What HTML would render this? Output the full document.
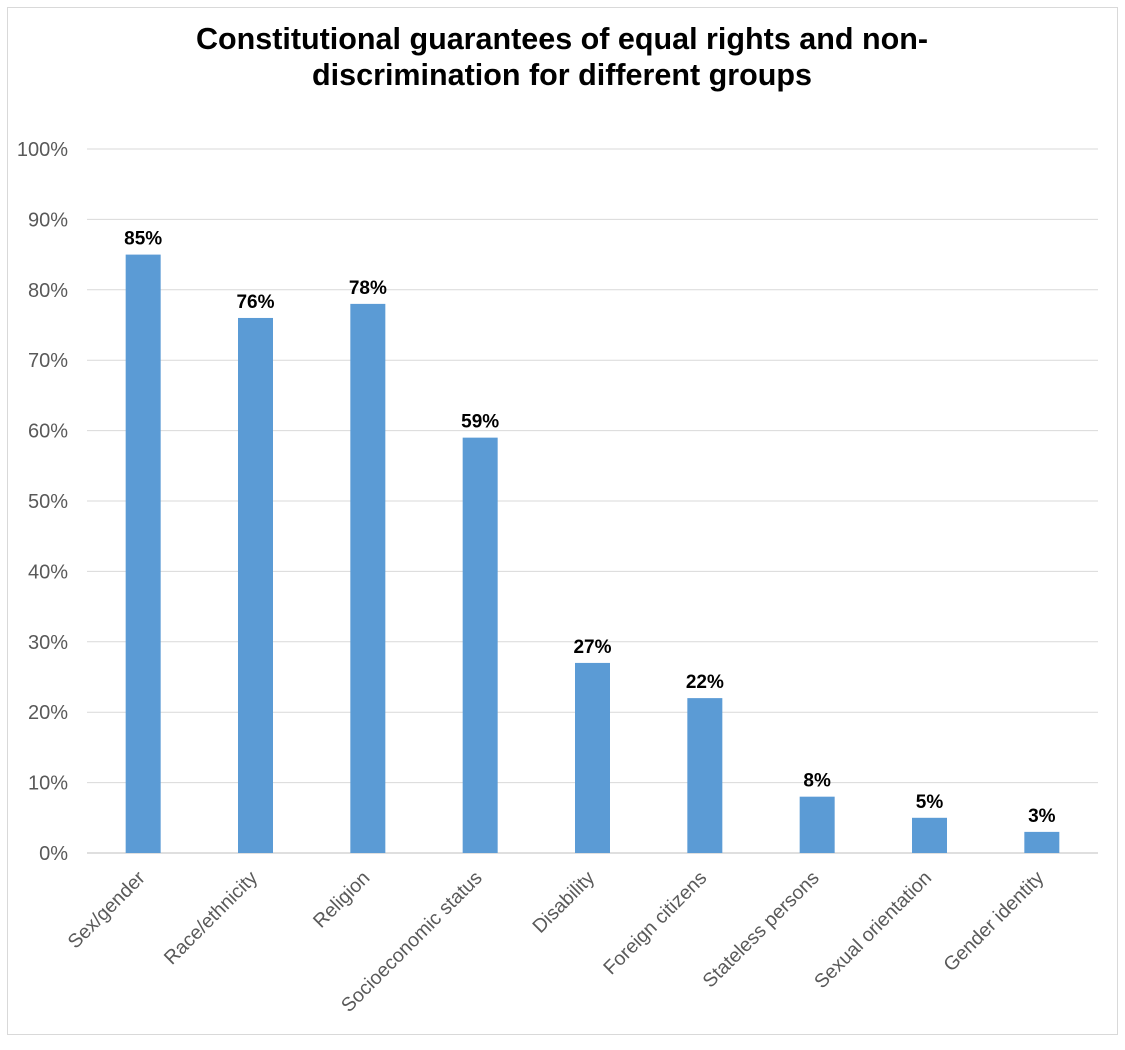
<!DOCTYPE html>
<html><head><meta charset="utf-8"><style>
body{margin:0;background:#fff;}
svg text{font-family:"Liberation Sans",Arial,sans-serif;}
</style></head><body>
<svg id="chart" width="1125" height="1045" xmlns="http://www.w3.org/2000/svg">
<rect x="7.5" y="7.5" width="1110" height="1027" fill="#fff" stroke="#d9d9d9"/>
<text x="562" y="49" text-anchor="middle" font-size="30.5" font-weight="bold" fill="#000">Constitutional guarantees of equal rights and non-</text>
<text x="562" y="85" text-anchor="middle" font-size="30.5" font-weight="bold" fill="#000">discrimination for different groups</text>
<g id="grid"></g><g id="bars"></g><g id="labels"></g>
</svg>
<script>
const categories=["Sex/gender","Race/ethnicity","Religion","Socioeconomic status","Disability","Foreign citizens","Stateless persons","Sexual orientation","Gender identity"];
const values=[85,76,78,59,27,22,8,5,3];
const ticks=[0,10,20,30,40,50,60,70,80,90,100];
const x0=87,x1=1098,yTop=149,yBot=853;
const band=(x1-x0)/categories.length;
function xC(i){return x0+band*(i+0.5);}
function yS(v){return yBot-(v/100)*(yBot-yTop);}
const ns="http://www.w3.org/2000/svg";
function mk(t,a,p){const e=document.createElementNS(ns,t);for(const k in a)e.setAttribute(k,a[k]);p.appendChild(e);return e;}
const g=document.getElementById('grid'),b=document.getElementById('bars'),l=document.getElementById('labels');
ticks.forEach(t=>{
 const y=yS(t);
 const ln=mk('line',{x1:x0,x2:x1,y1:y,y2:y,stroke:t===0?'#bfbfbf':'#d9d9d9','stroke-width':1},g);
 
 
 const tx=mk('text',{x:68,y:y+7,'text-anchor':'end','font-size':20,fill:'#595959'},g);
 tx.textContent=t+'%';
 
 
});
values.forEach((v,i)=>{
 const cx=xC(i),y=yS(v);
 const r=mk('rect',{x:cx-17.5,y:y,width:35,height:yBot-y,fill:'#5b9bd5'},b);
 
 
 const t=mk('text',{x:cx,y:y-10,'text-anchor':'middle','font-size':19,'font-weight':'bold',fill:'#000'},l);
 t.textContent=v+'%';
 
 
 const c=mk('text',{x:cx+3,y:yBot+26,'text-anchor':'end','font-size':19.5,fill:'#595959',transform:`rotate(-45 ${cx+3} ${yBot+26})`},l);
 c.textContent=categories[i];
 
 
});
</script>
</body></html>
